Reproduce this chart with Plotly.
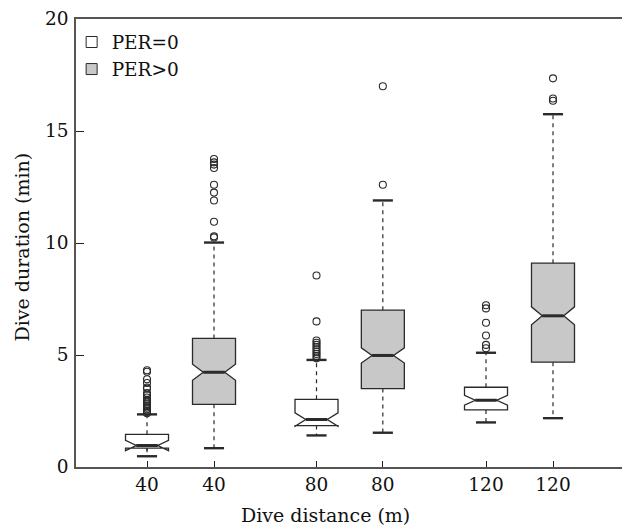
import plotly.graph_objects as go

# ---- data ----
distance_labels = ["40", "40", "80", "80", "120", "120"]
groups = ["PER=0", "PER>0"]

# PER=0 boxes (40, 80, 120 m)
per0_lower = [0.48, 1.41, 1.99]
per0_q1 = [0.84, 1.85, 2.55]
per0_median = [0.96, 2.12, 2.98]
per0_q3 = [1.46, 3.02, 3.56]
per0_upper = [2.35, 4.78, 5.10]
per0_notch = [0.23, 0.30, 0.22]
per0_outliers = [
    [2.40, 2.45, 2.50, 2.58, 2.65, 2.72, 2.80, 2.88, 2.95, 3.00, 3.10, 3.20,
     3.30, 3.50, 3.55, 3.75, 3.92, 4.25, 4.32],
    [4.85, 4.95, 5.05, 5.15, 5.25, 5.35, 5.45, 5.55, 5.65, 6.50, 8.55],
    [5.30, 5.45, 5.87, 6.44, 7.08, 7.22],
]

# PER>0 boxes (40, 80, 120 m)
per1_lower = [0.84, 1.53, 2.18]
per1_q1 = [2.80, 3.50, 4.68]
per1_median = [4.23, 4.98, 6.75]
per1_q3 = [5.74, 7.00, 9.10]
per1_upper = [10.02, 11.90, 15.75]
per1_notch = [0.36, 0.34, 0.40]
per1_outliers = [
    [10.25, 10.30, 10.95, 11.90, 12.25, 12.60, 13.35, 13.50, 13.60, 13.75],
    [12.60, 17.00],
    [16.35, 16.45, 17.35],
]

y_ticks = [0, 5, 10, 15, 20]

# ---- layout constants ----
POS = [1.0, 2.0, 3.53, 4.52, 6.06, 7.06]  # x positions of the six boxes
pos0 = [POS[0], POS[2], POS[4]]
pos1 = [POS[1], POS[3], POS[5]]
BOX_W = 0.642
CAP_HALF = 0.15
MED_HALF = BOX_W / 4
LINE = "#2a2a2a"
GRAY = "#c8c8c8"
FONT = "DejaVu Serif"

fig = go.Figure()


def add_group(name, pos, lo, q1, med, q3, up, notch, outl, fill):
    fig.add_trace(go.Box(
        x=pos, q1=q1, median=med, q3=q3, lowerfence=q1, upperfence=q3,
        notched=True, notchspan=notch, notchwidth=0.25, width=BOX_W,
        whiskerwidth=0, boxpoints=False, fillcolor=fill,
        line=dict(color=LINE, width=1.3), showlegend=False, hoverinfo="skip",
        name=name,
    ))
    # dashed whiskers
    wx, wy = [], []
    for p, a, b, c, d in zip(pos, lo, q1, q3, up):
        wx += [p, p, None, p, p, None]
        wy += [c, d, None, b, a, None]
    fig.add_trace(go.Scatter(x=wx, y=wy, mode="lines", showlegend=False,
                             line=dict(color=LINE, width=1.2, dash="4px,4px"),
                             hoverinfo="skip"))
    # caps
    cx, cy = [], []
    for p, a, d in zip(pos, lo, up):
        cx += [p - CAP_HALF, p + CAP_HALF, None, p - CAP_HALF, p + CAP_HALF, None]
        cy += [a, a, None, d, d, None]
    fig.add_trace(go.Scatter(x=cx, y=cy, mode="lines", showlegend=False,
                             line=dict(color=LINE, width=2.4), hoverinfo="skip"))
    # thick medians
    mx, my = [], []
    for p, m in zip(pos, med):
        mx += [p - MED_HALF, p + MED_HALF, None]
        my += [m, m, None]
    fig.add_trace(go.Scatter(x=mx, y=my, mode="lines", showlegend=False,
                             line=dict(color=LINE, width=3), hoverinfo="skip"))
    # outliers
    ox, oy = [], []
    for p, vals in zip(pos, outl):
        ox += [p] * len(vals)
        oy += vals
    fig.add_trace(go.Scatter(x=ox, y=oy, mode="markers", showlegend=False,
                             marker=dict(symbol="circle-open", size=7,
                                         color=LINE, line=dict(width=1.1)),
                             hoverinfo="skip"))
    # legend entry
    fig.add_trace(go.Scatter(x=[None], y=[None], mode="markers", name=name,
                             marker=dict(symbol="square", size=11, color=fill,
                                         line=dict(color=LINE, width=1))))


add_group(groups[0], pos0, per0_lower, per0_q1, per0_median, per0_q3,
          per0_upper, per0_notch, per0_outliers, "white")
add_group(groups[1], pos1, per1_lower, per1_q1, per1_median, per1_q3,
          per1_upper, per1_notch, per1_outliers, GRAY)

axis_line = dict(showline=True, linecolor="#555555", linewidth=1.6,
                 ticks="inside", tickcolor="#222222", tickwidth=1.3,
                 showgrid=False, zeroline=False)

fig.update_layout(
    width=622, height=529,
    margin=dict(l=76, r=0, t=19, b=62),
    paper_bgcolor="white", plot_bgcolor="white",
    font=dict(family=FONT, size=18.5, color="#111111"),
    boxmode="overlay",
    showlegend=True,
    legend=dict(x=-0.008, y=0.99, xanchor="left", yanchor="top",
                bgcolor="rgba(0,0,0,0)", font=dict(size=18.5),
                itemwidth=30, tracegroupgap=0),
    xaxis=dict(range=[-0.06, 8.09], tickvals=POS, ticktext=distance_labels,
               ticklen=6, mirror=True, ticklabelstandoff=0, **axis_line),
    yaxis=dict(range=[0, 20], tickvals=y_ticks, ticklen=8,
               ticklabelstandoff=2, **axis_line),
    annotations=[
        dict(text="Dive distance (m)", xref="paper", yref="paper",
             x=(325 - 76) / 546, y=-(516 - 467.5) / 448.5,
             xanchor="center", yanchor="middle", showarrow=False,
             font=dict(size=19)),
        dict(text="Dive duration (min)", xref="paper", yref="paper",
             x=(22 - 76) / 546, y=0.49, textangle=-90,
             xanchor="center", yanchor="middle", showarrow=False,
             font=dict(size=19)),
    ],
)

fig.write_html("out.html")
